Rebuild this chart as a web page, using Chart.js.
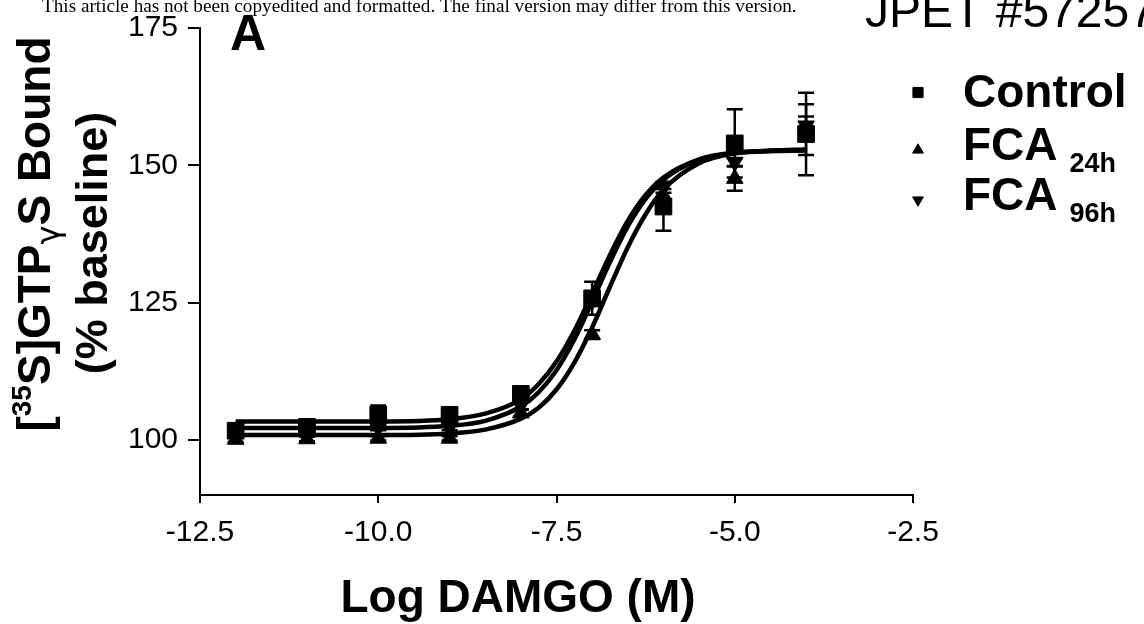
<!DOCTYPE html>
<html>
<head>
<meta charset="utf-8">
<script src="https://cdn.jsdelivr.net/npm/chart.js"></script>
<style>
  html, body { margin: 0; padding: 0; background: #fff; }
  #wrap { width: 1144px; height: 624px; position: relative; }
</style>
</head>
<body>
<div id="wrap"><canvas id="c" width="1144" height="624"></canvas></div>
<script>
// ---- data ----
const doses = [-12, -11, -10, -9, -8, -7, -6, -5, -4];
const controlMean = [101.7, 102.4, 104.6, 104.6, 108.4, 125.8, 142.5, 154.0, 155.7];
const controlErr  = [0.6, 0.5, 1.7, 0.6, 1.1, 3.0, 4.4, 6.2, 7.5];
const fca24Mean   = [100.1, 100.2, 100.3, 100.3, 104.9, 119.2, 144.5, 147.6, 156.5];
const fca24Err    = [0.4, 0.4, 0.4, 0.4, 0.6, 0.8, 1.2, 2.2, 4.6];
const fca96Mean   = [101.0, 101.8, 102.3, 102.3, 106.3, 125.4, 146.0, 150.6, 157.2];
const fca96Err    = [0.5, 0.5, 0.5, 0.5, 0.7, 1.0, 1.0, 0.7, 1.7];

// fitted curves
const curveX       = [-12, -11, -10, -9, -8.5, -8, -7.75, -7.5, -7.25, -7, -6.75, -6.5, -6.25, -6, -5.5, -5, -4.5, -4];
const curveControl = [103.4, 103.4, 103.4, 103.8, 104.8, 107.4, 110.2, 114.3, 119.9, 126.7, 133.7, 139.9, 144.6, 147.8, 151.1, 152.3, 152.6, 152.8];
const curveFca96   = [102.2, 102.2, 102.2, 102.6, 103.5, 106.1, 108.7, 112.7, 118.3, 125.2, 132.4, 138.9, 143.9, 147.4, 151.0, 152.2, 152.6, 152.7];
const curveFca24   = [100.9, 100.9, 100.9, 101.2, 101.9, 103.9, 105.9, 109.2, 114.1, 120.5, 127.9, 135.1, 141.1, 145.6, 150.4, 152.2, 152.7, 152.9];

const xTicks = [-12.5, -10.0, -7.5, -5.0, -2.5];
const yTicks = [100, 125, 150, 175];
const xRange = [-12.5, -2.5];
const yRange = [90, 175];

const seriesNames = ['Control', 'FCA', 'FCA'];
const seriesSubs = ['', '24h', '96h'];

const pts = (xs, ys) => xs.map((x, i) => ({ x: x, y: ys[i] }));

const SANS = "'Liberation Sans', Arial, sans-serif";

const pointDefs = [
  { mean: controlMean, err: controlErr, style: 'rect', rot: 0, r: 11.8 },
  { mean: fca24Mean, err: fca24Err, style: 'triangle', rot: 0, r: 9.6 },
  { mean: fca96Mean, err: fca96Err, style: 'triangle', rot: 180, r: 9.6 }
];

function drawMarker(ctx, style, rot, r, x, y) {
  ctx.save();
  ctx.fillStyle = '#000';
  ctx.strokeStyle = '#000';
  if (Chart.helpers && Chart.helpers.drawPoint) {
    Chart.helpers.drawPoint(ctx, { pointStyle: style, rotation: rot, radius: r, borderWidth: 1 }, x, y);
  }
  ctx.restore();
}

function drawRich(ctx, pieces) {
  let total = 0;
  pieces.forEach(p => { ctx.font = p.font; p.w = ctx.measureText(p.t).width; total += p.w; });
  let x = -total / 2;
  pieces.forEach(p => {
    ctx.font = p.font;
    ctx.fillText(p.t, x, p.dy || 0);
    x += p.w;
  });
}

const annotate = {
  id: 'annotate',
  beforeDatasetsDraw(chart) {
    const ctx = chart.ctx;
    const xs = chart.scales.x, ys = chart.scales.y;
    ctx.save();
    ctx.strokeStyle = '#000';
    ctx.lineWidth = 2.5;
    pointDefs.forEach(def => {
      doses.forEach((d, i) => {
        const px = xs.getPixelForValue(d);
        const top = ys.getPixelForValue(def.mean[i] + def.err[i]);
        const bot = ys.getPixelForValue(def.mean[i] - def.err[i]);
        ctx.beginPath();
        ctx.moveTo(px, top); ctx.lineTo(px, bot);
        ctx.moveTo(px - 8, top); ctx.lineTo(px + 8, top);
        ctx.moveTo(px - 8, bot); ctx.lineTo(px + 8, bot);
        ctx.stroke();
      });
    });
    ctx.restore();
  },
  afterDraw(chart) {
    const ctx = chart.ctx;
    ctx.save();
    ctx.fillStyle = '#000';
    ctx.textBaseline = 'alphabetic';
    ctx.textAlign = 'left';

    // header line (journal watermark)
    const header = 'This article has not been copyedited and formatted. The final version may differ from this version.';
    ctx.font = "22px 'Liberation Serif', 'Times New Roman', serif";
    const hw = ctx.measureText(header).width;
    const hs = 22 * 755 / hw;
    ctx.font = hs.toFixed(2) + "px 'Liberation Serif', 'Times New Roman', serif";
    ctx.fillText(header, 42, 12);

    ctx.font = "48px " + SANS;
    ctx.fillText('JPET #57257', 865, 27);

    // panel letter
    ctx.font = "bold 50px " + SANS;
    ctx.fillText('A', 230, 50);

    // x-axis title
    ctx.font = "bold 46px " + SANS;
    ctx.textAlign = 'center';
    ctx.fillText('Log DAMGO (M)', 518, 612);
    ctx.textAlign = 'left';

    // y-axis title (rotated, two lines)
    const main = "bold 46px " + SANS;
    ctx.save();
    ctx.translate(50, 234);
    ctx.rotate(-Math.PI / 2);
    drawRich(ctx, [
      { t: '[', font: main },
      { t: '35', font: "bold 28px " + SANS, dy: -19 },
      { t: 'S]GTP', font: main },
      { t: 'γ', font: "32px 'DejaVu Sans', sans-serif", dy: 9 },
      { t: 'S Bound', font: main }
    ]);
    ctx.restore();
    ctx.save();
    ctx.translate(107, 243);
    ctx.rotate(-Math.PI / 2);
    drawRich(ctx, [{ t: '(% baseline)', font: "bold 45px " + SANS }]);
    ctx.restore();

    // legend
    const legY = [92.5, 150, 200];
    const baseY = [107, 160, 210];
    const legR = [7.2, 6.2, 6.2];
    pointDefs.forEach((def, i) => {
      drawMarker(ctx, def.style, def.rot, legR[i], 918, legY[i]);
      ctx.font = "bold 46px " + SANS;
      ctx.fillText(seriesNames[i], 963, baseY[i]);
      if (seriesSubs[i]) {
        const w = ctx.measureText(seriesNames[i]).width;
        ctx.font = "bold 27px " + SANS;
        ctx.fillText(seriesSubs[i], 963 + w + 12, baseY[i] + 12);
      }
    });
    ctx.restore();
  }
};

const pointDatasets = pointDefs.map((def, i) => ({
  label: seriesNames[i] + seriesSubs[i],
  data: pts(doses, def.mean),
  showLine: false,
  pointStyle: def.style,
  rotation: def.rot,
  pointRadius: def.r,
  pointBackgroundColor: '#000',
  pointBorderColor: '#000',
  pointBorderWidth: 1
}));

const curveDatasets = [curveControl, curveFca24, curveFca96].map((c, i) => ({
  label: 'fit ' + i,
  data: pts(curveX, c),
  showLine: true,
  borderColor: '#000',
  borderWidth: 4.5,
  pointRadius: 0,
  cubicInterpolationMode: 'monotone',
  fill: false
}));

const axisCommon = (tickLen) => ({
  grid: { display: true, drawOnChartArea: false, drawTicks: true, tickLength: tickLen, color: '#000', lineWidth: 2 },
  border: { display: true, color: '#000', width: 2 },
  ticks: { color: '#000', font: { family: SANS, size: 30 } }
});

const xAxis = axisCommon(8);
xAxis.type = 'linear';
xAxis.min = xRange[0];
xAxis.max = xRange[1];
xAxis.ticks.padding = 12;
xAxis.ticks.maxRotation = 0;
xAxis.ticks.callback = v => Number(v).toFixed(1);
xAxis.afterBuildTicks = s => { s.ticks = xTicks.map(v => ({ value: v })); };
xAxis.afterFit = s => { s.height = 129; };

const yAxis = axisCommon(12);
yAxis.type = 'linear';
yAxis.min = yRange[0];
yAxis.max = yRange[1];
yAxis.ticks.padding = 10;
yAxis.ticks.callback = v => String(v);
yAxis.afterBuildTicks = s => { s.ticks = yTicks.map(v => ({ value: v })); };
yAxis.afterFit = s => { s.width = 200; };

new Chart(document.getElementById('c'), {
  type: 'scatter',
  data: { datasets: pointDatasets.concat(curveDatasets) },
  options: {
    responsive: false,
    animation: false,
    devicePixelRatio: 1,
    layout: { padding: { top: 20, right: 231, left: 0, bottom: 0 } },
    plugins: { legend: { display: false }, tooltip: { enabled: false }, title: { display: false } },
    scales: { x: xAxis, y: yAxis }
  },
  plugins: [annotate]
});
</script>
</body>
</html>
